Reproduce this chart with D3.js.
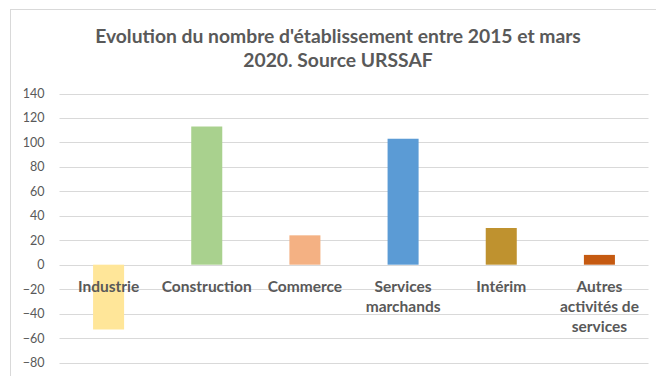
<!DOCTYPE html>
<html>
<head>
<meta charset="utf-8">
<script src="https://cdn.jsdelivr.net/npm/d3@7"></script>
<style>
  html, body { margin: 0; padding: 0; background: #fff; }
  svg { display: block; }
  text { font-family: Lato, "Open Sans", sans-serif; fill: #595959; }
</style>
</head>
<body>
<svg id="chart" width="656" height="376"></svg>
<script>
// Change in number of establishments, 2015 → March 2020 (URSSAF)
const categories = ["Industrie", "Construction", "Commerce", "Services marchands", "Intérim", "Autres activités de services"];
const categoryLines = [["Industrie"], ["Construction"], ["Commerce"], ["Services", "marchands"], ["Intérim"], ["Autres", "activités de", "services"]];
const values = [-53, 113, 24, 103, 30, 8];
const colors = ["#FFE699", "#A9D18E", "#F4B183", "#5B9BD5", "#BF922F", "#C55A11"];
const yTicks = [-80, -60, -40, -20, 0, 20, 40, 60, 80, 100, 120, 140];
const titleLines = ["Evolution du nombre d'établissement entre 2015 et mars", "2020. Source URSSAF"];

const svg = d3.select("#chart");
const margin = { left: 59.5, right: 648.5, top: 93.5, bottom: 362.5 };

// chart frame
svg.append("rect")
  .attr("x", 10.5).attr("y", 9.5)
  .attr("width", 700).attr("height", 400)
  .attr("fill", "#fff").attr("stroke", "#D9D9D9").attr("stroke-width", 1);

const x = d3.scaleBand()
  .domain(categories)
  .range([margin.left, margin.right])
  .paddingInner(0.684).paddingOuter(0.342);

const y = d3.scaleLinear()
  .domain([-80, 140])
  .range([margin.bottom, margin.top]);

// gridlines
svg.append("g")
  .selectAll("line")
  .data(yTicks)
  .join("line")
  .attr("x1", margin.left).attr("x2", margin.right)
  .attr("y1", d => Math.round(y(d)) + 0.5).attr("y2", d => Math.round(y(d)) + 0.5)
  .attr("stroke", "#D9D9D9").attr("stroke-width", 1);

// y axis labels
const yAxis = d3.axisLeft(y).tickValues(yTicks).tickSize(0).tickPadding(0);
const yg = svg.append("g").attr("transform", "translate(44.5,0)").call(yAxis);
yg.select(".domain").remove();
yg.selectAll("text")
  .style("font-family", "Lato, 'Open Sans', sans-serif")
  .attr("font-size", 12.5).attr("fill", "#595959");

// bars
svg.append("g")
  .selectAll("rect")
  .data(categories)
  .join("rect")
  .attr("x", d => x(d))
  .attr("width", x.bandwidth())
  .attr("y", (d, i) => y(Math.max(0, values[i])))
  .attr("height", (d, i) => Math.abs(y(values[i]) - y(0)))
  .attr("fill", (d, i) => colors[i]);

// category labels
const lab = svg.append("g")
  .selectAll("text")
  .data(categories)
  .join("text")
  .attr("x", d => x(d) + x.bandwidth() / 2)
  .attr("y", 292)
  .attr("text-anchor", "middle")
  .attr("font-size", 15.5)
  .attr("font-weight", "bold");
lab.selectAll("tspan")
  .data((d, i) => categoryLines[i])
  .join("tspan")
  .attr("x", function () { return d3.select(this.parentNode).attr("x"); })
  .attr("dy", (d, j) => j === 0 ? 0 : 20.2)
  .text(d => d);

// title
svg.append("text")
  .attr("x", 338)
  .attr("y", 43)
  .attr("text-anchor", "middle")
  .attr("font-size", 19.3)
  .attr("font-weight", "bold")
  .selectAll("tspan")
  .data(titleLines)
  .join("tspan")
  .attr("x", 338)
  .attr("dy", (d, i) => i === 0 ? 0 : 24)
  .text(d => d);
</script>
</body>
</html>
